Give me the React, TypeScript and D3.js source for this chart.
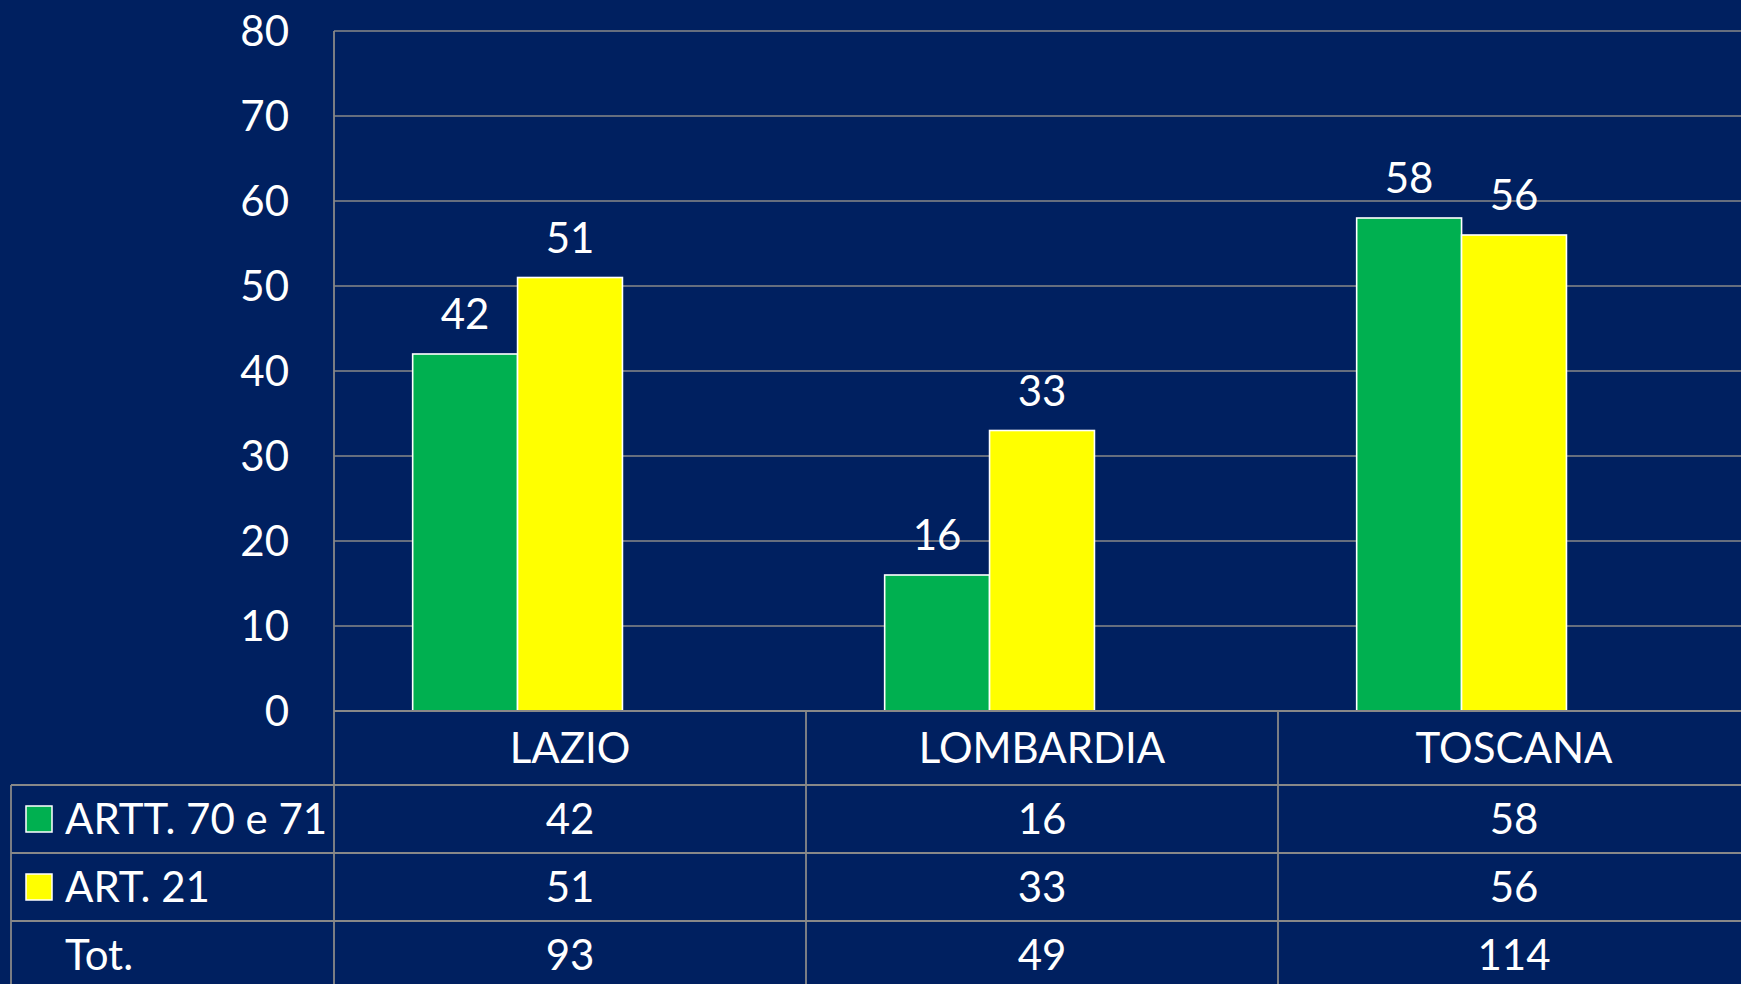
import React, { useEffect } from "react";
import * as d3 from "d3";

const categories = ["LAZIO", "LOMBARDIA", "TOSCANA"];
const seriesNames = ["ARTT. 70 e 71", "ART. 21", "Tot."];
const artt7071 = [42, 16, 58];
const art21 = [51, 33, 56];
const tot = [93, 49, 114];
const yTicks = [0, 10, 20, 30, 40, 50, 60, 70, 80];

const W = 1741;
const H = 984;
const BG = "#002060";
const GRID = "#888888";
const GREEN = "#00B050";
const YELLOW = "#FFFF00";
const FONT = "Lato, 'Open Sans', sans-serif";
const FS = 42;
const CAP = 15; // half cap height for vertical centering

export default function App() {
  useEffect(() => {
    document.body.style.margin = "0";
    document.body.style.overflow = "hidden";
  }, []);

  const plotLeft = 334;
  const plotTop = 31;
  const plotBottom = 711;
  const step = 472;
  const tableLeft = 11;
  const rowH = 68;
  const headerBottom = 785;

  const x = d3.scaleBand<string>().domain(categories).range([plotLeft, plotLeft + step * categories.length]).paddingInner(0).paddingOuter(0);
  const xs = d3.scaleBand<string>().domain(seriesNames).range([0, x.bandwidth()]).paddingInner(0).paddingOuter(0.75);
  const y = d3.scaleLinear().domain([0, 80]).range([plotBottom, plotTop]);

  const bars = [
    { name: seriesNames[0], values: artt7071, color: GREEN },
    { name: seriesNames[1], values: art21, color: YELLOW },
  ];

  const rows = [
    { name: seriesNames[0], values: artt7071, color: GREEN },
    { name: seriesNames[1], values: art21, color: YELLOW },
    { name: seriesNames[2], values: tot, color: null as string | null },
  ];

  const colEdges = categories.map((c) => x(c) as number);

  return (
    <svg width={W} height={H} style={{ display: "block", background: BG }} fontFamily={FONT}>
      <rect x={0} y={0} width={W} height={H} fill={BG} />
      {/* gridlines */}
      {yTicks.filter((t) => t > 0).map((t) => (
        <line key={"g" + t} x1={plotLeft} x2={W} y1={y(t)} y2={y(t)} stroke={GRID} strokeWidth={1.6} />
      ))}
      {/* tick labels */}
      {yTicks.map((t) => (
        <text key={"t" + t} x={289} y={y(t) + CAP} fill="#fff" fontSize={FS} textAnchor="end">
          {t}
        </text>
      ))}
      {/* bars */}
      {bars.map((s) =>
        categories.map((c, i) => {
          const bx = (x(c) as number) + (xs(s.name) as number);
          const by = y(s.values[i]);
          return (
            <g key={s.name + c}>
              <rect x={bx} y={by} width={xs.bandwidth()} height={plotBottom - by} fill={s.color} stroke="#fff" strokeWidth={1.6} />
              <text x={bx + xs.bandwidth() / 2} y={by - 40 + CAP} fill="#fff" fontSize={FS} textAnchor="middle">
                {s.values[i]}
              </text>
            </g>
          );
        })
      )}
      {/* table lines */}
      <line x1={plotLeft} x2={W} y1={plotBottom} y2={plotBottom} stroke={GRID} strokeWidth={1.8} />
      {[0, 1, 2].map((r) => (
        <line key={"h" + r} x1={tableLeft} x2={W} y1={headerBottom + r * rowH} y2={headerBottom + r * rowH} stroke={GRID} strokeWidth={1.8} />
      ))}
      <line x1={plotLeft} x2={plotLeft} y1={plotTop} y2={H} stroke={GRID} strokeWidth={1.8} />
      <line x1={tableLeft} x2={tableLeft} y1={headerBottom} y2={H} stroke={GRID} strokeWidth={1.8} />
      {colEdges.slice(1).map((cx, i) => (
        <line key={"v" + i} x1={cx} x2={cx} y1={plotBottom} y2={H} stroke={GRID} strokeWidth={1.8} />
      ))}
      {/* category labels */}
      {categories.map((c) => (
        <text key={"c" + c} x={(x(c) as number) + x.bandwidth() / 2} y={(plotBottom + headerBottom) / 2 + CAP} fill="#fff" fontSize={FS} textAnchor="middle">
          {c}
        </text>
      ))}
      {/* table rows */}
      {rows.map((r, ri) => {
        const cy = headerBottom + ri * rowH + rowH / 2;
        return (
          <g key={"r" + ri}>
            {r.color && <rect x={26} y={cy - 13} width={26} height={26} fill={r.color} stroke="#fff" strokeWidth={1.5} />}
            <text x={65} y={cy + CAP} fill="#fff" fontSize={FS}>
              {r.name}
            </text>
            {categories.map((c, i) => (
              <text key={c} x={(x(c) as number) + x.bandwidth() / 2} y={cy + CAP} fill="#fff" fontSize={FS} textAnchor="middle">
                {r.values[i]}
              </text>
            ))}
          </g>
        );
      })}
    </svg>
  );
}
